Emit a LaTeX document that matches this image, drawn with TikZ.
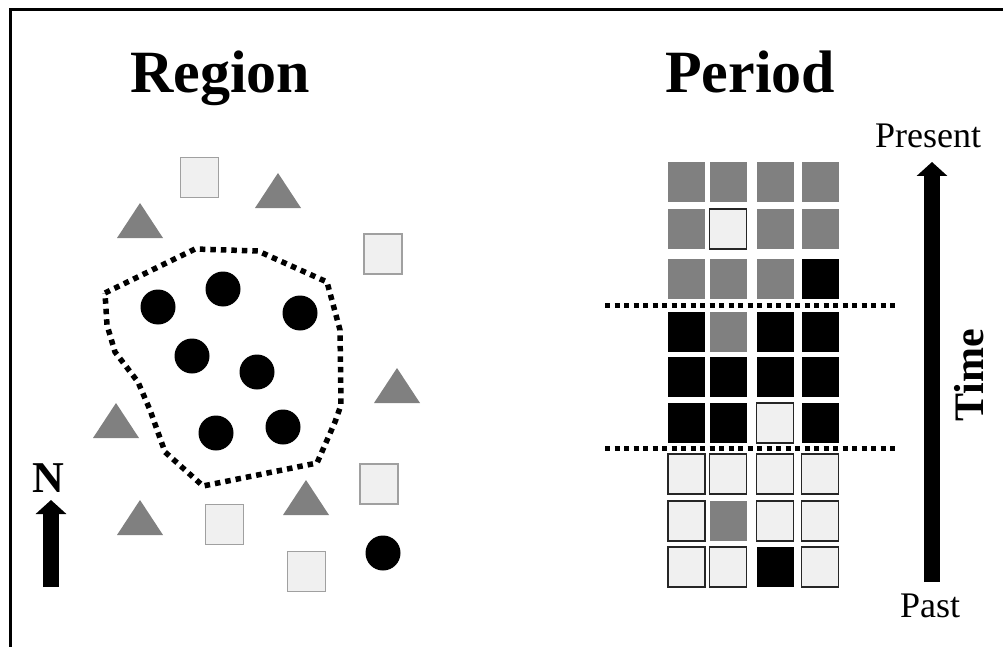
\documentclass[tikz,border=0pt]{standalone}
\usepackage{fontspec}
\setmainfont{Liberation Serif}
\usetikzlibrary{arrows.meta}

\definecolor{midgray}{HTML}{808080}
\definecolor{palegray}{HTML}{F0F0F0}
\definecolor{edgegray}{HTML}{A0A0A0}

\tikzset{
  title/.style={font=\fontsize{60}{70}\selectfont\bfseries, inner sep=0pt, anchor=base west},
  endlabel/.style={font=\fontsize{36}{40}\selectfont, inner sep=0pt, anchor=base west},
  bigarrow/.style={line width=16pt, -{Triangle[width=30pt,length=14pt]}},
  dotline/.style={line width=5pt, dash pattern=on 5pt off 4.5pt},
  boundary/.style={line width=5.5pt, dash pattern=on 5.5pt off 5pt, line join=round},
  % scattered features in the region map
  feature/.style={draw=edgegray, fill=palegray, line width=1.2pt, minimum width=38pt, minimum height=40pt, inner sep=0pt},
  dot/.style={circle, fill=black, minimum size=35pt, inner sep=0pt},
  tri/.style={fill=midgray},
  % cells of the period grid
  cell/.style={minimum width=37pt, minimum height=40pt, inner sep=0pt},
  cellG/.style={cell, fill=midgray},
  cellB/.style={cell, fill=black},
  cellL/.style={cell, fill=palegray, draw=black!85, line width=1.2pt},
}

\begin{document}
\begin{tikzpicture}[x=1pt, y=-1pt]
\useasboundingbox (0,0) rectangle (1003,647);

% frame
\draw[line width=3pt] (10,660) -- (10,10) -- (1015,10);

% ---------------- Region ----------------
\node[title] (regiontitle) at (130,93) {Region};

% boundary of the region
\draw[boundary] (105,293) -- (195,249) -- (258,251) -- (327,282)
  -- (340,330) -- (341,405) -- (335,422) -- (317,463) -- (203,486)
  -- (165,452) -- (150,410) -- (138,382) -- (115,352) -- (107,325) -- cycle;

% black dots
\foreach \px/\py [count=\i] in {158/307, 223/289, 300/313, 192/356, 257/372, 216/433, 283/427, 383/553}
  \node[dot] (d\i) at (\px,\py) {};

% light squares
\foreach \px/\py [count=\i] in {199.5/177.5, 383/254, 224.5/524.5, 379/484, 306.5/571.5}
  \node[feature] (s\i) at (\px,\py) {};

% gray triangles (apex given)
\foreach \px/\py in {278/173, 140/203, 397/368, 116/403, 140/500, 306/480}
  \fill[tri] (\px,\py) -- ++(23,35) -- ++(-46,0) -- cycle;

% north arrow
\node[font=\fontsize{44}{50}\selectfont\bfseries, inner sep=0pt, anchor=base] (north) at (48,492) {N};
\coordinate (nfoot) at (51,587);
\coordinate (ntip) at (51,500);
\draw[bigarrow] (nfoot) -- (ntip);

% ---------------- Period ----------------
\node[title] (periodtitle) at (665,93) {Period};

\foreach \rowlist [count=\r] in {
    {G,G,G,G},
    {G,L,G,G},
    {G,G,G,B},
    {B,G,B,B},
    {B,B,B,B},
    {B,B,L,B},
    {L,L,L,L},
    {L,G,L,L},
    {L,L,B,L}}{
  \foreach \c [count=\k] in \rowlist {
    \pgfmathsetmacro\cx{{686.5,728,775,820}[\k-1]}
    \pgfmathsetmacro\cy{{182,229,279,331.5,377,423,474,521,567}[\r-1]}
    \node[cell\c] (g-\r-\k) at (\cx,\cy) {};
  }
}

% period boundaries
\coordinate (b1l) at (605,305);
\coordinate (b1r) at (895,305);
\coordinate (b2l) at (605,448);
\coordinate (b2r) at (895,448);
\draw[dotline] (b1l) -- (b1r);
\draw[dotline] (b2l) -- (b2r);

% time axis
\node[endlabel] (present) at (875,148) {Present};
\node[endlabel] (past) at (900,617) {Past};
\coordinate (tfoot) at (932,582);
\coordinate (ttip) at (932,162);
\draw[bigarrow] (tfoot) -- (ttip);
\node[font=\fontsize{42}{48}\selectfont\bfseries, inner sep=0pt, anchor=base, rotate=90] (time) at (983,375) {Time};

\end{tikzpicture}
\end{document}
